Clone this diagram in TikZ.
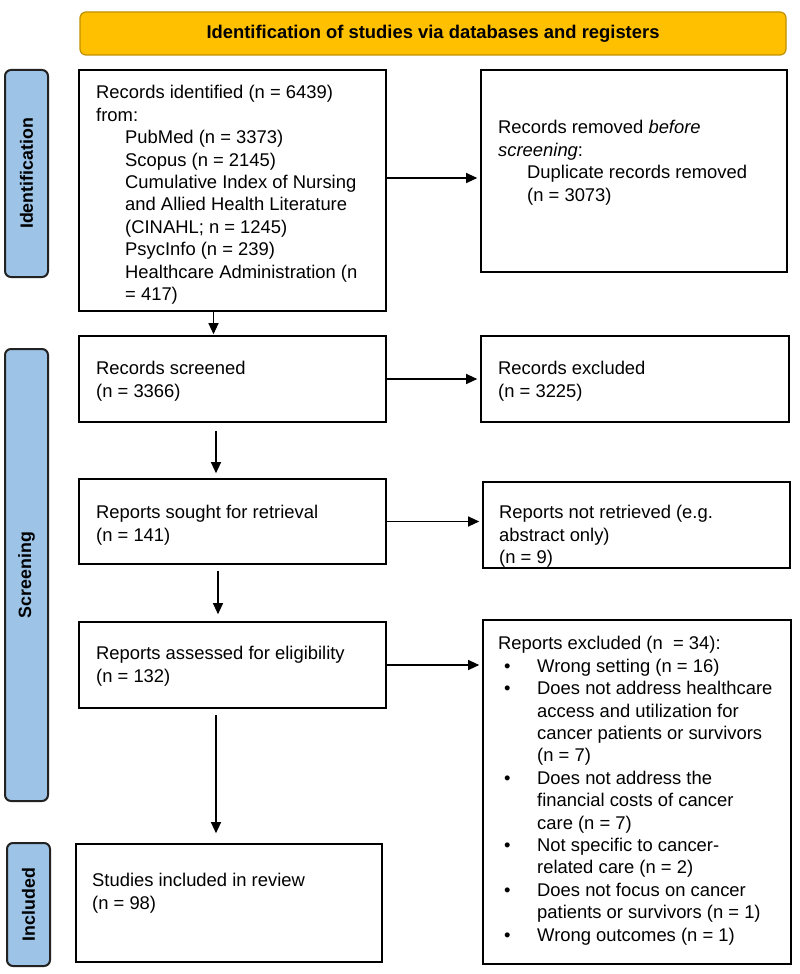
\documentclass[tikz,border=0pt]{standalone}
\usepackage{fontspec}
\setmainfont{Liberation Sans}
\usetikzlibrary{arrows.meta,calc}
\definecolor{hdrfill}{RGB}{255,192,0}
\definecolor{hdrdraw}{RGB}{191,144,0}
\definecolor{labfill}{RGB}{157,195,230}
\definecolor{labdraw}{RGB}{34,34,34}
\newcommand\bodyfont{\fontsize{18.4}{22.4}\selectfont}
\newcommand\ind{\hspace*{29pt}}
\newcommand\bul{\hspace*{6pt}\makebox[33pt][l]{\textbullet}}
\newcommand\cnt{\hspace*{39pt}}
\begin{document}
\begin{tikzpicture}[x=1pt,y=-1pt,
  box/.style={draw=black,line width=1.6pt,fill=white,inner sep=0pt},
  txt/.style={anchor=north west,inner sep=0pt,align=left,font=\bodyfont},
  sidelab/.style={draw=labdraw,line width=2pt,fill=labfill,rounded corners=6pt,
    rotate=90,inner sep=0pt,font=\fontsize{17.8}{20}\selectfont\bfseries},
  arr/.style={line width=1.1pt,-{Triangle[length=11pt,width=10pt]}}]
\useasboundingbox (0,0) rectangle (800,974);
\fill[white] (0,0) rectangle (800,974);
% header
\node[draw=hdrdraw,line width=1.2pt,fill=hdrfill,rounded corners=6pt,
  minimum width=706pt,minimum height=43pt,inner sep=0pt,
  font=\fontsize{18.4}{22}\selectfont\bfseries] (hdr) at (433,33.5)
  {Identification of studies via databases and registers};
% side labels
\node[sidelab,minimum width=207pt,minimum height=43pt] (labid) at (26.5,173.5) {Identification};
\node[sidelab,minimum width=452pt,minimum height=43pt] (labsc) at (26.5,575) {Screening};
\node[sidelab,minimum width=123pt,minimum height=43pt] (labin) at (28.5,904.5) {Included};
% boxes
\node[box,minimum width=307pt,minimum height=241pt] (box1) at (232.5,190.5) {};
\node[box,minimum width=306pt,minimum height=202pt] (removed) at (634,171) {};
\node[box,minimum width=307pt,minimum height=86pt] (screened) at (232.5,379) {};
\node[box,minimum width=308pt,minimum height=86pt] (excluded) at (635,379) {};
\node[box,minimum width=307pt,minimum height=85pt] (sought) at (232.5,521.5) {};
\node[box,minimum width=307pt,minimum height=86pt] (notret) at (636.5,525) {};
\node[box,minimum width=307pt,minimum height=86pt] (assessed) at (232.5,665) {};
\node[box,minimum width=308pt,minimum height=344pt] (repexcl) at (637,792) {};
\node[box,minimum width=306pt,minimum height=118pt] (included) at (229,903) {};
% texts
\node[txt] (t1) at (96,83) {\strut Records identified (n = 6439)\\
from:\\
\ind PubMed (n = 3373)\\
\ind Scopus (n = 2145)\\
\ind Cumulative Index of Nursing\\
\ind and Allied Health Literature\\
\ind (CINAHL; n = 1245)\\
\ind PsycInfo (n = 239)\\
\ind Healthcare Administration (n\\
\ind = 417)};
\node[txt] (t2) at (498,118) {\strut Records removed \textit{before}\\
\textit{screening}:\\
\ind Duplicate records removed\\
\ind (n = 3073)};
\node[txt] (t3) at (96,359) {\strut Records screened\\(n = 3366)};
\node[txt] (t4) at (498,359) {\strut Records excluded\\(n = 3225)};
\node[txt] (t5) at (96,503) {\strut Reports sought for retrieval\\(n = 141)};
\node[txt] (t6) at (499,503) {\strut Reports not retrieved (e.g.\\abstract only)\\(n = 9)};
\node[txt] (t7) at (96,644) {\strut Reports assessed for eligibility\\(n = 132)};
\node[txt] (t8) at (498,634) {\strut Reports excluded (n\ \ = 34):\\
\bul Wrong setting (n = 16)\\
\bul Does not address healthcare\\
\cnt access and utilization for\\
\cnt cancer patients or survivors\\
\cnt (n = 7)\\
\bul Does not address the\\
\cnt financial costs of cancer\\
\cnt care (n = 7)\\
\bul Not specific to cancer-\\
\cnt related care (n = 2)\\
\bul Does not focus on cancer\\
\cnt patients or survivors (n = 1)\\
\bul Wrong outcomes (n = 1)};
\node[txt] (t9) at (92,871) {\strut Studies included in review\\(n = 98)};
% connectors
\coordinate (a1) at ([yshift=12.5pt]box1.east);
\draw[arr,shorten >=3pt] (a1) -- (a1 -| removed.west);
\draw[arr,shorten >=3pt] (screened.east) -- (screened.east -| excluded.west);
\draw[arr,shorten >=3pt] (sought.east) -- (sought.east -| notret.west);
\draw[arr,shorten >=3pt] (assessed.east) -- (assessed.east -| repexcl.west);
\coordinate (v1) at ([xshift=-19pt]box1.south);
\draw[arr,shorten >=1pt] (v1) -- (v1 |- screened.north);
\coordinate (v2) at ([xshift=-16.5pt]screened.south);
\draw[arr,shorten <=8pt,shorten >=5pt] (v2) -- (v2 |- sought.north);
\coordinate (v3) at ([xshift=-14.5pt]sought.south);
\draw[arr,shorten <=6pt,shorten >=7pt] (v3) -- (v3 |- assessed.north);
\coordinate (v4) at ([xshift=-16.5pt]assessed.south);
\draw[arr,shorten <=6pt,shorten >=10pt] (v4) -- (v4 |- included.north);
\end{tikzpicture}
\end{document}
